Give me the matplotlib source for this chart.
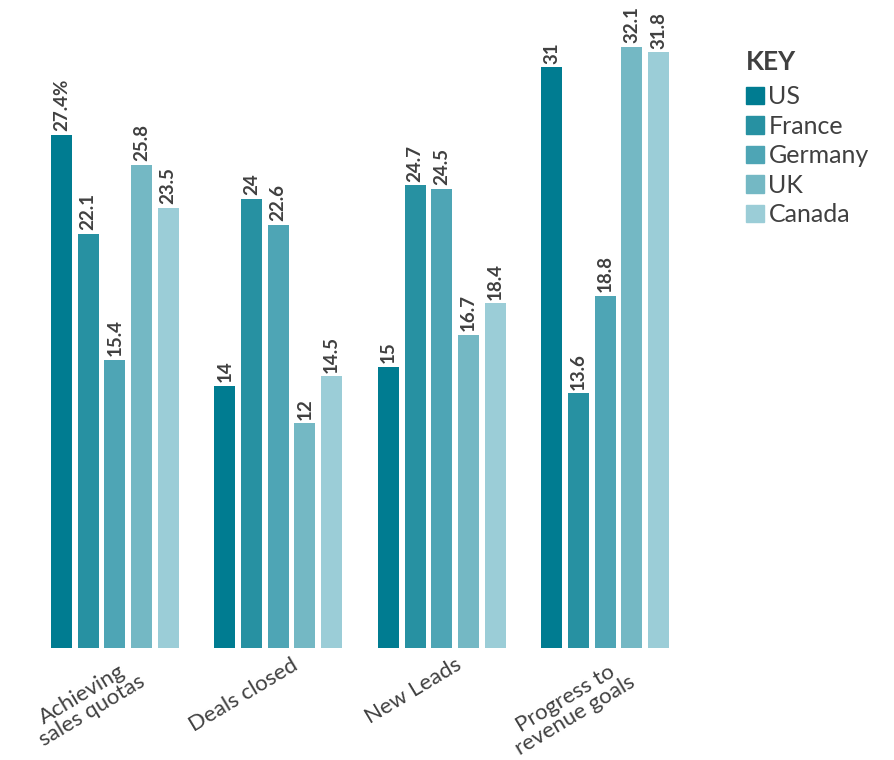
import matplotlib.pyplot as plt
import numpy as np
from matplotlib.patches import Patch

plt.rcParams['font.family'] = ['Lato', 'DejaVu Sans']

categories = ['Achieving\nsales quotas', 'Deals closed', 'New Leads', 'Progress to\nrevenue goals']
countries = ['US', 'France', 'Germany', 'UK', 'Canada']
us = [27.4, 14, 15, 31]
france = [22.1, 24, 24.7, 13.6]
germany = [15.4, 22.6, 24.5, 18.8]
uk = [25.8, 12, 16.7, 32.1]
canada = [23.5, 14.5, 18.4, 31.8]
labels = [
    ['27.4%', '14', '15', '31'],
    ['22.1', '24', '24.7', '13.6'],
    ['15.4', '22.6', '24.5', '18.8'],
    ['25.8', '12', '16.7', '32.1'],
    ['23.5', '14.5', '18.4', '31.8'],
]
colors = ['#007c91', '#2791a2', '#4ea5b5', '#74b8c4', '#9bcdd7']
text_col = '#404040'

series = [us, france, germany, uk, canada]

fig = plt.figure(figsize=(8.94, 7.6), dpi=100)
ax = fig.add_axes([33 / 894, 112 / 760, 654 / 894, 648 / 760])

x = np.arange(len(categories))
step = 0.163
width = 0.128
for i, vals in enumerate(series):
    pos = x + (i - 2) * step
    ax.bar(pos, vals, width, color=colors[i])
    for p, v, lab in zip(pos, vals, labels[i]):
        ax.text(p, v + 0.2, lab, rotation=90, ha='center', va='bottom',
                fontsize=13.5, fontweight='bold', color=text_col)

ax.set_xlim(-0.5, 3.5)
ax.set_ylim(0, 34.6)
ax.set_yticks([])
ax.set_xticks(x + 0.08)
ax.set_xticklabels(categories, rotation=31, ha='right', rotation_mode='anchor',
                   ma='center', fontsize=16, color=text_col, linespacing=0.95)
ax.tick_params(axis='x', length=0, pad=5)
for s in ax.spines.values():
    s.set_visible(False)

handles = [Patch(color=c) for c in colors]
leg = fig.legend(handles, countries, loc='upper left',
                 bbox_to_anchor=(746 / 894, 1 - 50 / 760), frameon=False,
                 title='KEY', alignment='left', fontsize=18,
                 handlelength=0.7, handleheight=0.7, handletextpad=0.2,
                 labelspacing=0.26, borderpad=0, borderaxespad=0)
leg.get_title().set_fontweight('bold')
leg.get_title().set_fontsize(19)
leg.get_title().set_color(text_col)
leg._legend_box.sep = 8
for t in leg.get_texts():
    t.set_color(text_col)

fig.savefig('out.png', dpi=100)
